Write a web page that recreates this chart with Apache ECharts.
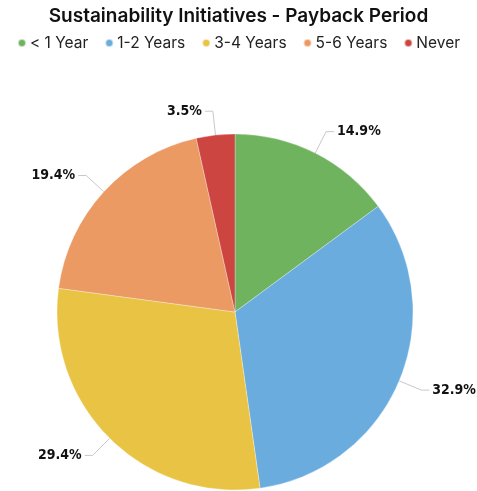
<!DOCTYPE html>
<html>
<head>
<meta charset="utf-8">
<script src="https://cdn.jsdelivr.net/npm/echarts@6/dist/echarts.min.js"></script>
<style>
html,body{margin:0;padding:0;background:#fff;}
#chart{width:477px;height:491px;}
</style>
</head>
<body>
<div id="chart"></div>
<script>
// Payback period buckets and their share of initiatives (%)
const categories = ['< 1 Year', '1-2 Years', '3-4 Years', '5-6 Years', 'Never'];
const shares = [14.9, 32.9, 29.4, 19.4, 3.5];
const colors = ['#6fb35f', '#6aacde', '#e9c343', '#eb9a63', '#cc4540'];

const chart = echarts.init(document.getElementById('chart'));
chart.setOption({
  color: colors,
  title: {
    text: 'Sustainability Initiatives - Payback Period',
    left: 'center',
    top: 2,
    textStyle: { fontFamily: 'Inter, Roboto, sans-serif', fontSize: 19, fontWeight: 600, color: '#111' }
  },
  legend: {
    top: 30,
    left: 'center',
    icon: 'circle',
    itemWidth: 8,
    itemHeight: 8,
    itemGap: 16,
    textStyle: { fontFamily: 'Inter, Roboto, sans-serif', fontSize: 15.5, color: '#222', padding: [0, 0, 0, -1] },
    data: categories
  },
  series: [{
    type: 'pie',
    center: [235, 312],
    radius: [0, 178],
    startAngle: 90,
    clockwise: true,
    avoidLabelOverlap: true,
    data: categories.map((name, i) => ({ name, value: shares[i] })),
    label: {
      formatter: (p) => p.value.toFixed(1) + '%',
      fontFamily: '"DejaVu Sans Condensed", "DejaVu Sans", sans-serif',
      fontWeight: 'bold',
      fontSize: 14,
      color: '#111',
      overflow: 'none',
      distanceToLabelLine: 3
    },
    labelLine: {
      length: 24,
      length2: 8,
      lineStyle: { color: '#c8c8c8', width: 1 }
    },
    itemStyle: { borderColor: 'rgba(255,255,255,0.6)', borderWidth: 0.5 }
  }]
});
</script>
</body>
</html>
